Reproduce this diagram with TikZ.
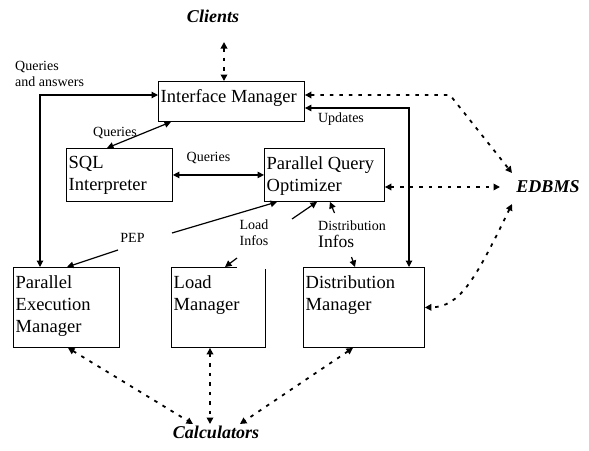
\documentclass[tikz,border=0pt]{standalone}
\usepackage{fontspec}
\setmainfont{Liberation Serif}
\usetikzlibrary{arrows.meta,calc}
\begin{document}
\begin{tikzpicture}[x=1pt,y=-1pt,
  tip/.tip={Triangle[length=6.5pt,width=6.5pt]},
  box/.style={draw,line width=0.9pt,inner sep=0pt,anchor=north west},
  boxtext/.style={anchor=north west,align=left,inner xsep=2.5pt,inner ysep=8pt,
    font=\fontsize{18.5}{22}\selectfont},
  small/.style={inner sep=1pt,font=\fontsize{14}{16}\selectfont},
  actor/.style={inner sep=2pt,font=\fontsize{18}{20}\selectfont\bfseries\itshape},
  flow/.style={line width=1.2pt,tip-tip},
  halfflow/.style={line width=1.2pt,-tip},
  link/.style={line width=1.8pt,dash pattern=on 3.5pt off 6pt,tip-tip}
]
\useasboundingbox (0,0) rectangle (589,450);

% external actors
\node[actor] (clients) at (213,16) {Clients};
\node[actor] (edbms) at (548,187) {EDBMS};
\node[actor] (calc) at (216,432) {Calculators};

% modules
\node[box,minimum width=146pt,minimum height=40pt] (im) at (158,81) {};
\node[boxtext] (imT) at (im.north west) {Interface Manager};
\node[box,minimum width=106pt,minimum height=53pt] (sql) at (66,148) {};
\node[boxtext] (sqlT) at (sql.north west) {SQL\\Interpreter};
\node[box,minimum width=120pt,minimum height=53pt] (pqo) at (264,148) {};
\node[boxtext] (pqoT) at (pqo.north west) {Parallel Query\\Optimizer};
\node[box,minimum width=106pt,minimum height=80pt] (pem) at (13,267) {};
\node[boxtext] (pemT) at (pem.north west) {Parallel\\Execution\\Manager};
\node[box,draw=none,minimum width=94pt,minimum height=80pt] (lm) at (171,267) {};
\node[boxtext] (lmT) at (lm.north west) {Load\\Manager};
\node[box,minimum width=121pt,minimum height=80pt] (dm) at (303,267) {};
\node[boxtext] (dmT) at (dm.north west) {Distribution\\Manager};

% Load Manager frame, open at the top right
\draw[line width=0.9pt] ($(lm.north west)+(66,0)$) -- (lm.north west) -- (lm.south west)
  -- (lm.south east) -- ($(lm.north east)+(0,2)$);

% free ends next to the actors
\coordinate (clS) at (224,42);
\coordinate (edN) at (512,173);
\coordinate (edW) at (500,187);
\coordinate (edS) at (512,204);
\coordinate (ca1) at (193,424);
\coordinate (ca2) at (210,424);
\coordinate (ca3) at (240,424);

% label break points
\coordinate (pepA) at (118,250);
\coordinate (pepB) at (172,233);
\coordinate (ldA) at (237,258);
\coordinate (ldB) at (292,219);
\coordinate (dsA) at (334.5,213);
\coordinate (dsB) at (351.5,257);

% solid flows
\draw[flow] (im.west |- 0,95) -| (pem.north -| 40,0);
\node[small,align=left,anchor=west] (qa) at (14,74) {Queries\\and answers};

\draw[flow] ($(im.south west)+(13,0)$) -- ($(sql.north west)+(41,0)$);
\node[small] (q1) at (115,133) {Queries};

\draw[flow] (sql.east) -- (pqo.west);
\node[small] (q2) at (208.5,158) {Queries};

\draw[flow] (im.east |- 0,108) -| (dm.north -| 409,0);
\node[small] (upd) at (341,119) {Updates};

\draw[halfflow] (pepA) -- ($(pem.north west)+(54,0)$);
\draw[halfflow] (pepB) -- ($(pqo.south west)+(13,0)$);
\node[small] (pep) at (132.5,238) {PEP};

\draw[halfflow] (ldA) -- ($(lm.north west)+(54,0)$);
\draw[halfflow] (ldB) -- ($(pqo.south west)+(53,0)$);
\node[small,align=left] (ldl) at (254,233) {Load\\Infos};

\draw[halfflow] (dsA) -- ($(pqo.south west)+(66,0)$);
\draw[halfflow] (dsB) -- ($(dm.north west)+(52,0)$);
\node[small,align=left,anchor=west] (dsl) at (317,234)
  {Distribution\\[1pt]{\fontsize{17.5}{18}\selectfont Infos}};

% exchanges with the outside
\draw[link] (clS) -- (clS |- im.north);
\draw[link] (im.east |- 0,95) -- (450,95) -- (edN);
\draw[link] (pqo.east |- edW) -- (edW);
\draw[link] (edS) .. controls (475,280) and (460,307) .. (dm.east);
\draw[link] ($(pem.south west)+(55,0)$) -- (ca1);
\draw[link] ($(lm.south west)+(39,0)$) -- (ca2);
\draw[link] ($(dm.south west)+(50,0)$) -- (ca3);
\end{tikzpicture}
\end{document}
